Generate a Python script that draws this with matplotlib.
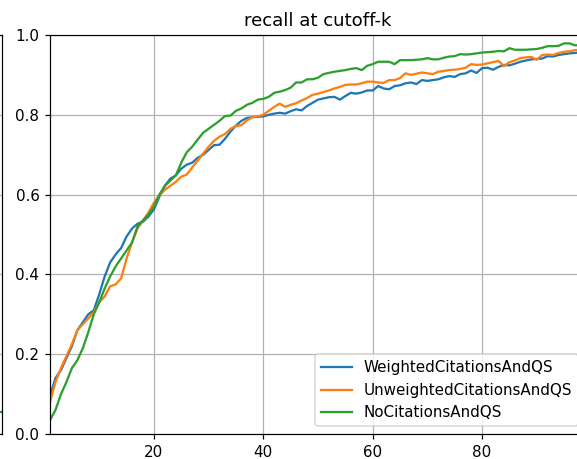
import matplotlib
matplotlib.use("Agg")
import matplotlib.pyplot as plt
import numpy as np

k = np.arange(1, 100)

weighted = [0.095, 0.14, 0.16, 0.19, 0.22, 0.26, 0.28, 0.30, 0.31, 0.35,
            0.395, 0.43, 0.45, 0.466, 0.495, 0.515, 0.527, 0.532, 0.545, 0.563,
            0.595, 0.622, 0.64, 0.648, 0.665, 0.675, 0.68, 0.692, 0.70, 0.712,
            0.724, 0.725, 0.74, 0.758, 0.773, 0.785, 0.792, 0.794, 0.795, 0.796,
            0.800, 0.803, 0.805, 0.803, 0.809, 0.814, 0.811, 0.822, 0.83, 0.838,
            0.841, 0.844, 0.845, 0.838, 0.847, 0.855, 0.853, 0.856, 0.861, 0.861,
            0.872, 0.866, 0.864, 0.872, 0.874, 0.879, 0.881, 0.877, 0.887, 0.885,
            0.887, 0.889, 0.894, 0.897, 0.895, 0.902, 0.904, 0.911, 0.905, 0.917,
            0.918, 0.913, 0.92, 0.925, 0.924, 0.928, 0.933, 0.936, 0.939, 0.94,
            0.941, 0.947, 0.946, 0.95, 0.952, 0.954, 0.955, 0.957, 0.958]

unweighted = [0.08, 0.13, 0.165, 0.195, 0.225, 0.26, 0.275, 0.29, 0.305, 0.33,
              0.345, 0.37, 0.375, 0.39, 0.44, 0.48, 0.515, 0.535, 0.555, 0.58,
              0.598, 0.612, 0.622, 0.632, 0.645, 0.65, 0.668, 0.685, 0.703, 0.72,
              0.735, 0.745, 0.752, 0.765, 0.772, 0.774, 0.786, 0.794, 0.796, 0.80,
              0.81, 0.82, 0.828, 0.82, 0.825, 0.829, 0.836, 0.842, 0.85, 0.853,
              0.857, 0.861, 0.866, 0.87, 0.875, 0.876, 0.876, 0.879, 0.883, 0.883,
              0.881, 0.88, 0.887, 0.887, 0.892, 0.904, 0.90, 0.903, 0.906, 0.904,
              0.902, 0.908, 0.91, 0.912, 0.913, 0.915, 0.918, 0.927, 0.925, 0.926,
              0.929, 0.932, 0.935, 0.922, 0.932, 0.936, 0.942, 0.944, 0.945, 0.938,
              0.95, 0.951, 0.95, 0.955, 0.958, 0.959, 0.962, 0.963, 0.964]

nocitations = [0.035, 0.06, 0.10, 0.13, 0.165, 0.185, 0.215, 0.255, 0.30, 0.33,
               0.365, 0.395, 0.42, 0.44, 0.46, 0.48, 0.52, 0.535, 0.55, 0.57,
               0.60, 0.622, 0.635, 0.648, 0.68, 0.706, 0.72, 0.738, 0.755, 0.765,
               0.775, 0.785, 0.797, 0.798, 0.81, 0.816, 0.825, 0.83, 0.838, 0.84,
               0.845, 0.855, 0.858, 0.862, 0.868, 0.881, 0.881, 0.889, 0.889, 0.893,
               0.902, 0.905, 0.908, 0.91, 0.912, 0.915, 0.917, 0.912, 0.923, 0.927,
               0.933, 0.933, 0.933, 0.927, 0.937, 0.937, 0.937, 0.938, 0.939, 0.942,
               0.939, 0.939, 0.943, 0.946, 0.947, 0.952, 0.951, 0.952, 0.954, 0.956,
               0.957, 0.958, 0.96, 0.959, 0.967, 0.963, 0.963, 0.963, 0.964, 0.965,
               0.968, 0.972, 0.972, 0.973, 0.979, 0.979, 0.974, 0.975, 0.976]

labels = ["WeightedCitationsAndQS", "UnweightedCitationsAndQS", "NoCitationsAndQS"]

# neighbouring panel, only its right edge shows
left_k = [97, 98, 99]
left_green = [0.055, 0.055, 0.055]

W, H = 577, 459
DPI = 109
fig = plt.figure(figsize=(W / DPI, H / DPI), dpi=DPI)

bottom = 25 / H
height = (434 - 35) / H

axl = fig.add_axes([-0.9, bottom, 0.9 + 2 / W, height])
axl.plot(left_k, left_green, color="C2", lw=1.5)
axl.set_xlim(1, 99)
axl.set_ylim(0, 1)
axl.set_yticks([0, 0.2, 0.4, 0.6, 0.8, 1.0])
axl.yaxis.grid(True)
axl.tick_params(labelbottom=False, labelleft=False)

ax = fig.add_axes([50 / W, bottom, (586 - 50) / W, height])
ax.plot(k, weighted, lw=1.5, label=labels[0])
ax.plot(k, unweighted, lw=1.5, label=labels[1])
ax.plot(k, nocitations, lw=1.5, label=labels[2])
ax.set_xlim(1, 99)
ax.set_ylim(0, 1)
ax.set_xticks([20, 40, 60, 80])
ax.grid(True)
ax.set_title("recall at cutoff-k")
ax.legend(loc="lower right")

fig.savefig("out.png", dpi=DPI)
